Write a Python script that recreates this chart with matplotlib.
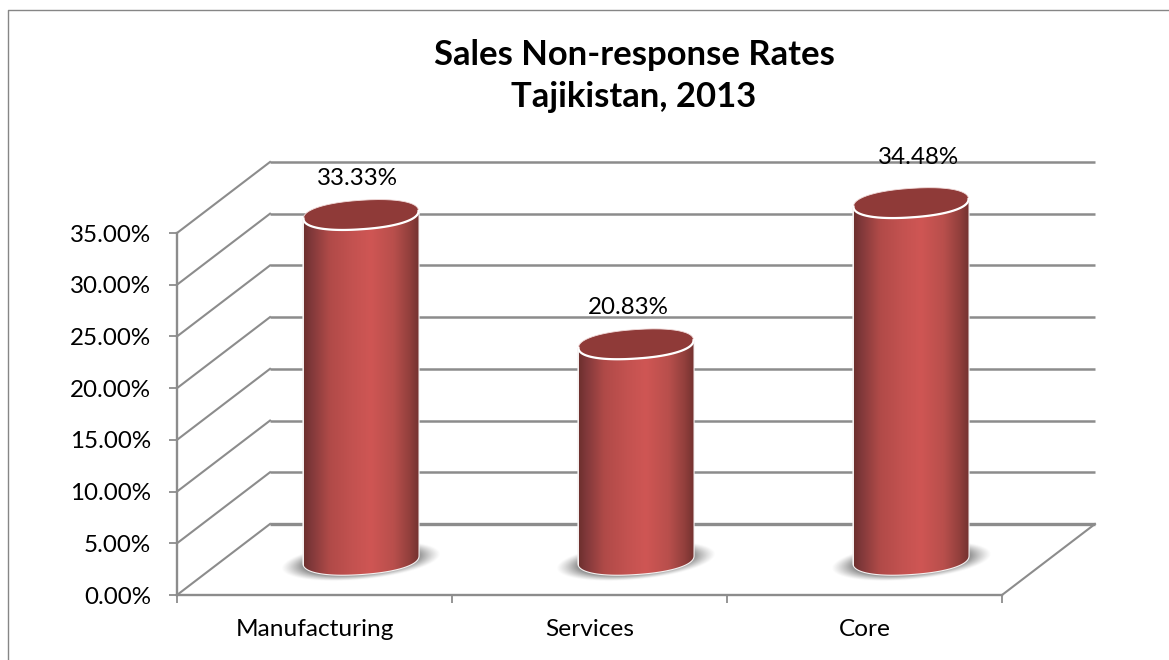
import numpy as np
import matplotlib
matplotlib.use("Agg")
import matplotlib.pyplot as plt
from matplotlib.colors import LinearSegmentedColormap
from matplotlib.lines import Line2D
from matplotlib.patches import Polygon

categories = ["Manufacturing", "Services", "Core"]
rates = [33.33, 20.83, 34.48]
y_ticks = [0, 5, 10, 15, 20, 25, 30, 35]
title_lines = ["Sales Non-response Rates", "Tajikistan, 2013"]

W, H = 1169, 660
plt.rcParams['font.family'] = ['Lato', 'DejaVu Sans']
GRID = "#8c8c8c"
fig = plt.figure(figsize=(W / 100, H / 100), dpi=100, facecolor="white")
L, R, T, B = 177, 1002, 233, 595
ax = fig.add_axes([L / W, 1 - B / H, (R - L) / W, (B - T) / H], facecolor="none")
ax.set_xlim(0, len(categories))
ax.set_ylim(0, 35)
sx = len(categories) / (R - L)   # data per pixel
sy = 35 / (B - T)
dx, dy = 93 * sx, 71 * sy        # depth of the 3-D box

# chart-area frame (runs off the right and bottom of the picture)
fig.add_artist(Line2D([8 / W, 8 / W, 1], [0, 1 - 10 / H, 1 - 10 / H], color="#868686", lw=1.0))

# walls
for v in y_ticks:
    ax.plot([dx, len(categories) + dx], [v + dy, v + dy], color=GRID, lw=1.8 if v else 2.4,
            zorder=1, clip_on=False, solid_capstyle="butt")
    ax.plot([0, dx], [v, v + dy], color=GRID, lw=1.5, zorder=1, clip_on=False)
ax.plot([len(categories), len(categories) + dx], [0, dy], color=GRID, lw=1.5, zorder=1, clip_on=False)

# axes
for s in ["top", "right"]:
    ax.spines[s].set_visible(False)
for s in ["left", "bottom"]:
    ax.spines[s].set_color(GRID)
    ax.spines[s].set_linewidth(1.7)
ax.set_yticks(y_ticks)
ax.set_yticklabels([f"{v:.2f}%" for v in y_ticks], fontsize=17.4, color="black")
ax.set_xticks(range(len(categories) + 1))
ax.set_xticklabels([])
ax.set_xticks([i + 0.5 for i in range(len(categories))], minor=True)
ax.set_xticklabels(categories, minor=True, fontsize=17.6, color="black")
ax.tick_params(axis="both", which="major", length=5.8, width=1.3, color=GRID)
ax.tick_params(axis="x", which="minor", length=0, pad=17)
ax.tick_params(axis="y", which="major", pad=13)

cmap = LinearSegmentedColormap.from_list("cyl", [
    (0.0, "#6e302e"), (0.06, "#80383a"), (0.22, "#b04a48"), (0.42, "#c35250"),
    (0.58, "#cf5654"), (0.78, "#b94f4c"), (0.92, "#923f3c"), (1.0, "#743230")])
grad = np.linspace(0, 1, 256)[None, :]

HALF = 57.5
TILT = 3.8
MINOR = 14.5
POWER = 0.9
BASE_OFFSET = 35.5
t = np.linspace(0, 2 * np.pi, 241)
label_shift = [(-4, 36), (-8, 37), (8, 45)]


def rim(angles):
    """Rim of a cylinder end, as x and y offsets in data units."""
    c = np.cos(angles)
    s = np.sin(angles)
    c = np.sign(c) * np.abs(c) ** POWER
    s = np.sign(s) * np.abs(s) ** POWER
    return HALF * c * sx, (TILT * c + MINOR * s) * sy


for i, (rate, shift) in enumerate(zip(rates, label_shift)):
    cx = i + 0.5 + dx / 2
    y0 = BASE_OFFSET * sy
    y1 = y0 + rate
    ex, ey = rim(t)

    # soft floor shadow
    xs = np.linspace(-95, 95, 191)
    ys = np.linspace(-35, 35, 71)
    X, Y = np.meshgrid(xs, ys)
    Yt = Y - 0.09 * X
    r = np.sqrt((X / 80) ** 2 + ((Yt + 2) / 19) ** 2)
    a = np.clip((1.0 - r) / 0.3, 0, 1) ** 1.2 * 0.75
    rgba = np.zeros(X.shape + (4,))
    rgba[..., :3] = 0.36
    rgba[..., 3] = a
    ax.imshow(rgba, extent=[cx - 95 * sx, cx + 95 * sx, y0 - 35 * sy, y0 + 35 * sy],
              origin="lower", aspect="auto", zorder=2, clip_on=False, interpolation="bilinear")

    # body with a horizontal shading
    low = t[t >= np.pi]
    lx, ly = rim(low)
    outline = np.column_stack([np.r_[cx + lx, cx + lx[::-1]], np.r_[y0 + ly, y1 + ly[::-1]]])
    ax.add_patch(Polygon(outline, closed=True, facecolor="none", edgecolor="#f4f0f0", lw=1.6,
                         zorder=3, clip_on=False))
    im = ax.imshow(grad, cmap=cmap, extent=[cx - HALF * sx, cx + HALF * sx, y0 - 20 * sy, y1 + 20 * sy],
                   aspect="auto", zorder=3.1, interpolation="bilinear")
    im.set_clip_path(Polygon(outline, closed=True, transform=ax.transData))
    im.set_clip_box(fig.bbox)

    # top cap
    ax.add_patch(Polygon(np.column_stack([cx + ex, y1 + ey]), closed=True, facecolor="#8f3a38",
                         edgecolor="none", zorder=4, clip_on=False))
    ax.plot(cx + lx, y1 + ly, color="white", lw=1.6, zorder=5, clip_on=False)
    ax.plot(cx + ex, y1 + ey, color="#f2dcdb", lw=0.6, zorder=4.5, clip_on=False)

    ax.annotate(f"{rate:.2f}%", (cx, y1), xytext=(shift[0] * 0.72, shift[1] * 0.72),
                textcoords="offset points", ha="center", va="center", fontsize=17.4,
                color="black", zorder=6, annotation_clip=False)

ax.set_xlim(0, len(categories))
ax.set_ylim(0, 35)

fig.text(634 / W, 1 - 55 / H, title_lines[0], ha="center", va="center", fontsize=24.9, fontweight="bold")
fig.text(634 / W, 1 - 97 / H, title_lines[1], ha="center", va="center", fontsize=24.9, fontweight="bold")

fig.savefig("out.png", dpi=100, facecolor="white")
